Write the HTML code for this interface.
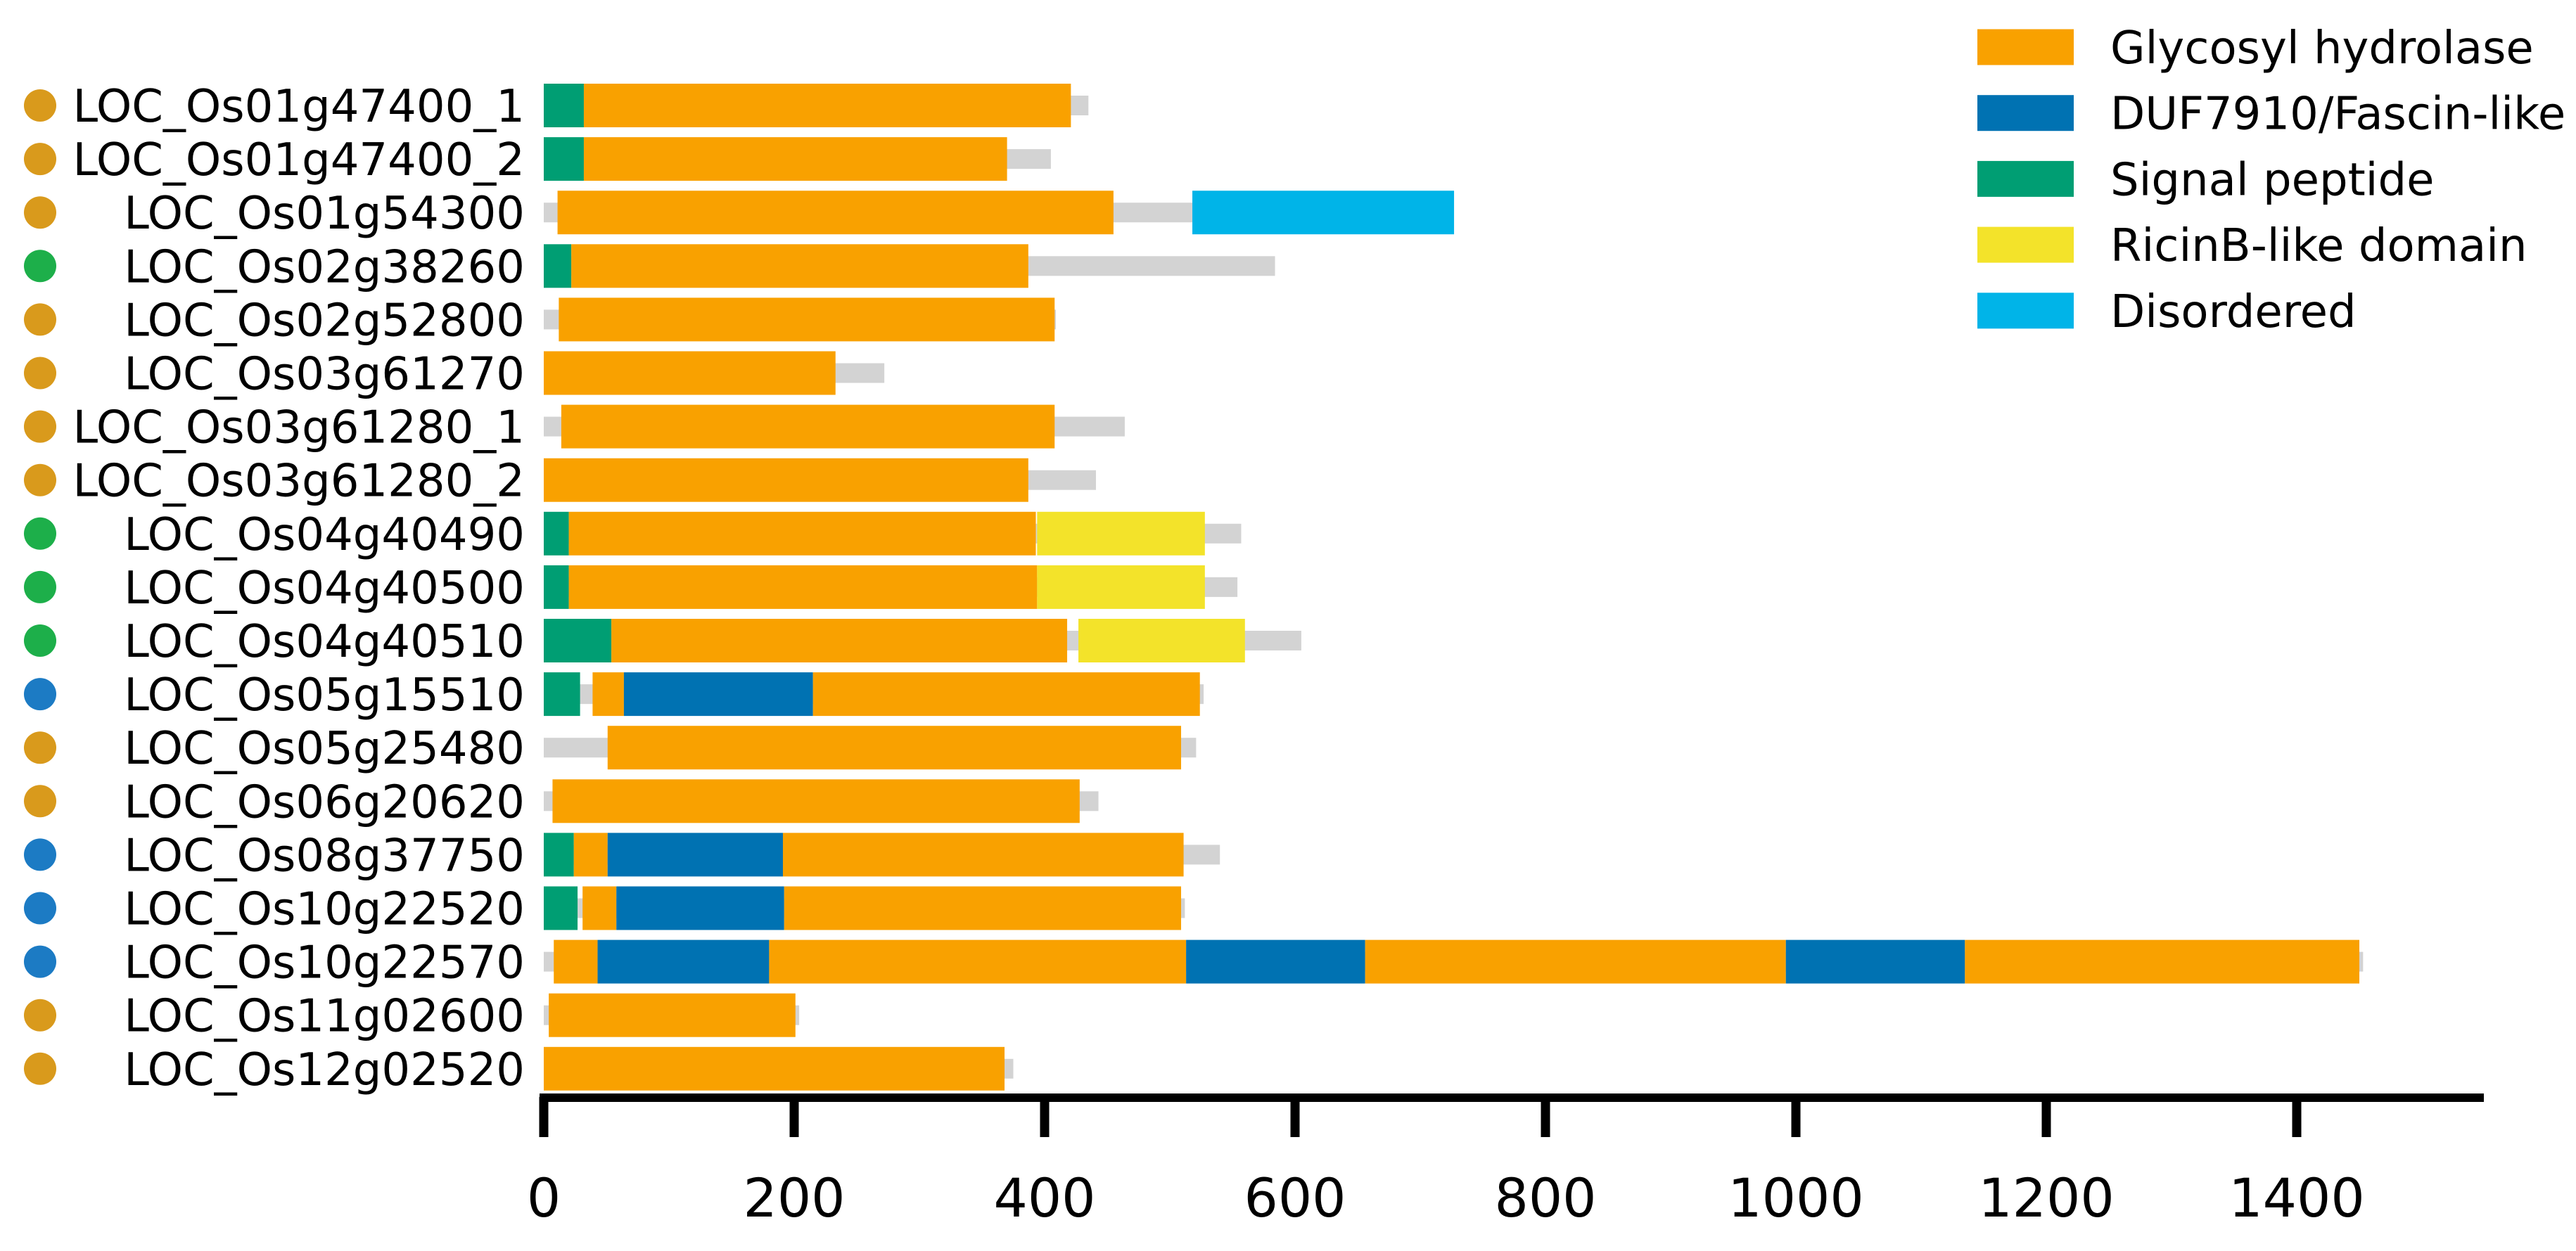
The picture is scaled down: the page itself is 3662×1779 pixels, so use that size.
<!DOCTYPE html>
<html><head><meta charset="utf-8"><style>
html,body{margin:0;padding:0;background:#fff;}
svg{display:block;font-family:"DejaVu Sans","Liberation Sans",sans-serif;}
</style></head><body>
<svg id="chart" width="3662" height="1779" viewBox="0 0 3662 1779" xmlns="http://www.w3.org/2000/svg">
<g id="legend"></g>
<g id="rows"></g>
<g id="axis"></g>
</svg>
<script>
const genes = ["LOC_Os01g47400_1","LOC_Os01g47400_2","LOC_Os01g54300","LOC_Os02g38260","LOC_Os02g52800","LOC_Os03g61270","LOC_Os03g61280_1","LOC_Os03g61280_2","LOC_Os04g40490","LOC_Os04g40500","LOC_Os04g40510","LOC_Os05g15510","LOC_Os05g25480","LOC_Os06g20620","LOC_Os08g37750","LOC_Os10g22520","LOC_Os10g22570","LOC_Os11g02600","LOC_Os12g02520"];
const groups = ["gold","gold","gold","green","gold","gold","gold","gold","green","green","green","blue","gold","gold","blue","blue","blue","gold","gold"];
const proteinLength = [435,405,518,584,409,272,464,441,557,554,605,527,521,443,540,512,1453,204,375];
const domains = [
 [["sp",0,32],["gh",32,421]],
 [["sp",0,32],["gh",32,370]],
 [["gh",11,455],["dis",518,727]],
 [["sp",0,22],["gh",22,387]],
 [["gh",12,408]],
 [["gh",0,233]],
 [["gh",14,408]],
 [["gh",0,387]],
 [["sp",0,20],["gh",20,393],["ric",394,528]],
 [["sp",0,20],["gh",20,394],["ric",394,528]],
 [["sp",0,54],["gh",54,418],["ric",427,560]],
 [["sp",0,29],["gh",39,64],["duf",64,215],["gh",215,524]],
 [["gh",51,509]],
 [["gh",7,428]],
 [["sp",0,24],["gh",24,51],["duf",51,191],["gh",191,511]],
 [["sp",0,27],["gh",31,58],["duf",58,192],["gh",192,509]],
 [["gh",8,43],["duf",43,180],["gh",180,513],["duf",513,656],["gh",656,992],["duf",992,1135],["gh",1135,1450]],
 [["gh",4,201]],
 [["gh",0,368]]
];
const xTicks = [0,200,400,600,800,1000,1200,1400];
const legendKeys = ["gh","duf","sp","ric","dis"];
const legendLabels = ["Glycosyl hydrolase","DUF7910/Fascin-like","Signal peptide","RicinB-like domain","Disordered"];

const NS="http://www.w3.org/2000/svg";
const colors={gh:"#F9A100",duf:"#0072B2",sp:"#009E73",ric:"#F3E32A",dis:"#00B4E8"};
const dotColors={gold:"#D99A1C",green:"#1DAF4A",blue:"#1C7BC4"};
const x0=773, pxPer=1.78;
function xs(v){return x0+v*pxPer;}
function yc(i){return 150+i*76.1;}
function mk(tag,attrs,parent){const e=document.createElementNS(NS,tag);for(const k in attrs)e.setAttribute(k,attrs[k]);parent.appendChild(e);return e;}

const rowsG=document.getElementById('rows');
genes.forEach((g,i)=>{
  const y=yc(i);
  const row=mk('g',{},rowsG);
  
  
  const dot=mk('circle',{cx:57,cy:y,r:23,fill:dotColors[groups[i]]},row);
  
  
  const t=mk('text',{x:746,y:y+23,'text-anchor':'end','font-size':64,fill:'#000'},row);
  t.textContent=g;
  
  
  const bg=mk('rect',{x:xs(0),y:y-14,width:xs(proteinLength[i])-xs(0),height:28,fill:'#D3D3D3'},row);
  
  
  domains[i].forEach(d=>{
    const r=mk('rect',{x:xs(d[1]),y:y-31,width:xs(d[2])-xs(d[1]),height:62,fill:colors[d[0]]},row);
    
    
  });
});

const ax=document.getElementById('axis');
const line=mk('rect',{x:767,y:1555,width:3531-767,height:12,fill:'#000'},ax);


xTicks.forEach(v=>{
  const tk=mk('rect',{x:xs(v)-6.5,y:1560,width:13,height:57,fill:'#000'},ax);
  
  
  const tl=mk('text',{x:xs(v),y:1730,'text-anchor':'middle','font-size':76,fill:'#000'},ax);
  tl.textContent=String(v);
  
  
});

const lg=document.getElementById('legend');
legendKeys.forEach((k,i)=>{
  const cy=67+i*93.7;
  const e=mk('g',{},lg);
  
  
  const sw=mk('rect',{x:2811,y:cy-25.5,width:137,height:51,fill:colors[k]},e);
  
  
  const lt=mk('text',{x:3000,y:cy+23,'font-size':64,fill:'#000'},e);
  lt.textContent=legendLabels[i];
  
  
});
</script>
</body></html>
